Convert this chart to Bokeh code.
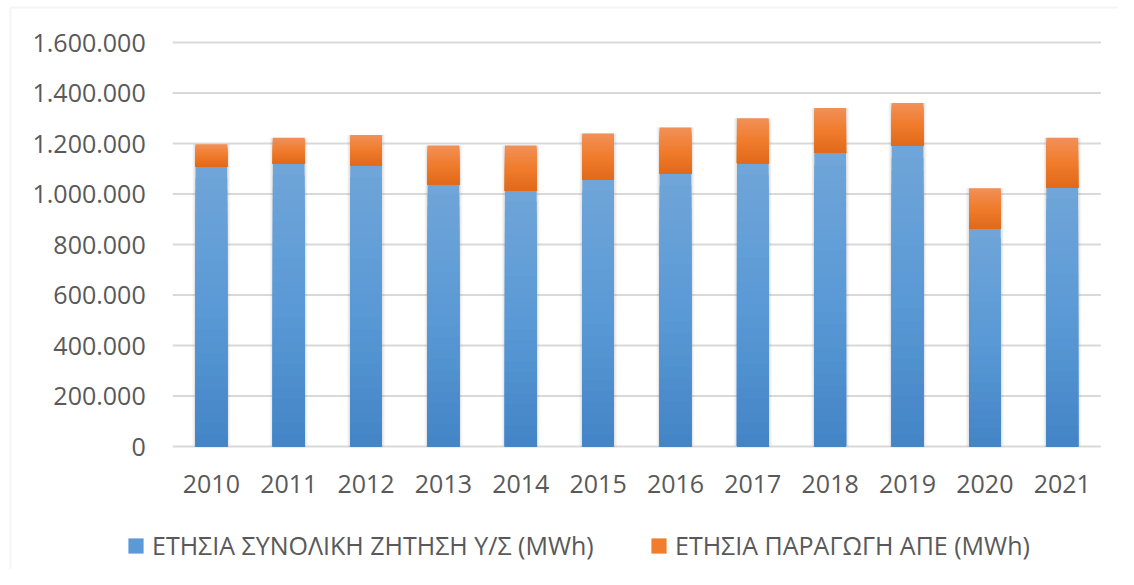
from bokeh.plotting import figure
from bokeh.models import (Range1d, FixedTicker, CustomJSTickFormatter,
                          Legend, LegendItem, ColumnDataSource, LinearAxis, BoxAnnotation)
from bokeh.embed import file_html
from bokeh.resources import INLINE

# ---- data ----
years = ["2010", "2011", "2012", "2013", "2014", "2015",
         "2016", "2017", "2018", "2019", "2020", "2021"]
demand = [1109000, 1120000, 1114000, 1038000, 1012000, 1055000,
          1079000, 1121000, 1162000, 1192000, 862000, 1024000]
res_prod = [88000, 103000, 120000, 154000, 180000, 185000,
            184000, 179000, 179000, 168000, 161000, 199000]
y_ticks = [0, 200000, 400000, 600000, 800000, 1000000, 1200000, 1400000, 1600000]
series_labels = ["ΕΤΗΣΙΑ ΣΥΝΟΛΙΚΗ ΖΗΤΗΣΗ Υ/Σ (MWh)", "ΕΤΗΣΙΑ ΠΑΡΑΓΩΓΗ ΑΠΕ (MWh)"]

# gradient stops (bottom, middle, top)
blue_stops = [(0x43, 0x84, 0xc6), (0x5a, 0x9a, 0xd6), (0x70, 0xa5, 0xd8)]
orange_stops = [(0xe0, 0x69, 0x1a), (0xf0, 0x7c, 0x2c), (0xf1, 0x90, 0x58)]

FONT = "Open Sans"
FS = "25px"
TXT = "#595959"

# ---- layout (pixels) ----
W, H = 1118, 569
PLOT_L, PLOT_R = 172.2, 1100.4      # category area, page px
PLOT_T, PLOT_B = 42.0, 446.0        # 1.6M and 0 lines, page px
n = len(years)
ymax = y_ticks[-1]
px_x = (PLOT_R - PLOT_L) / n
px_y = (PLOT_B - PLOT_T) / ymax
x_start = -0.5 - PLOT_L / px_x
x_end = n - 0.5 + (W - PLOT_R) / px_x
y_end = ymax + PLOT_T / px_y
y_start = -(H - PLOT_B) / px_y

xs = list(range(n))

p = figure(x_range=Range1d(x_start, x_end), y_range=Range1d(y_start, y_end),
           width=W, height=H, output_backend="svg", toolbar_location=None,
           x_axis_type=None, y_axis_type=None, min_border=0)
p.outline_line_color = None
p.background_fill_color = "white"
p.border_fill_color = "white"
p.xgrid.visible = False
p.ygrid.visible = False

# chart-area border (left / top / right visible)
p.add_layout(BoxAnnotation(left=x_start + 10 / px_x, right=x_end + 20 / px_x,
                           top=y_end - 7 / px_y, bottom=y_start - 40 / px_y,
                           fill_alpha=0, line_color="#d9d9d9", line_width=2))

# gridlines over the category area only
p.segment(x0=[-0.5] * len(y_ticks), x1=[n - 0.5] * len(y_ticks),
          y0=y_ticks, y1=y_ticks, line_color="#d9d9d9", line_width=2)

yaxis = LinearAxis(fixed_location=-0.5, ticker=FixedTicker(ticks=y_ticks),
                   formatter=CustomJSTickFormatter(
                       code=r"return tick.toFixed(0).replace(/\B(?=(\d{3})+(?!\d))/g, '.');"))
xaxis = LinearAxis(fixed_location=0, ticker=FixedTicker(ticks=xs),
                   major_label_overrides={i: y for i, y in enumerate(years)})
for ax in (xaxis, yaxis):
    ax.axis_line_color = None
    ax.major_tick_line_color = None
    ax.minor_tick_line_color = None
    ax.major_tick_out = 0
    ax.major_tick_in = 0
    ax.major_label_text_font = FONT
    ax.major_label_text_font_size = FS
    ax.major_label_text_color = TXT
yaxis.major_label_standoff = 27
xaxis.major_label_standoff = 28
p.add_layout(yaxis, "left")
p.add_layout(xaxis, "below")


def interp(stops, t):
    if t <= 0.5:
        a, b, u = stops[0], stops[1], t / 0.5
    else:
        a, b, u = stops[1], stops[2], (t - 0.5) / 0.5
    c = [round(a[i] + (b[i] - a[i]) * u) for i in range(3)]
    return "#%02x%02x%02x" % tuple(c)


N = 24
BW = 0.41

# soft shadow behind the stacks
totals = [d + r for d, r in zip(demand, res_prod)]
for extra, alpha in ((0.085, 0.05), (0.06, 0.07), (0.035, 0.10)):
    p.vbar(x=xs, bottom=0, top=totals, width=BW + extra,
           fill_color="#808080", fill_alpha=alpha, line_color=None)


def gradient_bars(values, bases, stops):
    mid = None
    for k in range(N - 1, -1, -1):
        src = ColumnDataSource(dict(
            x=xs,
            bottom=bases,
            top=[b + v * (k + 1) / N for b, v in zip(bases, values)],
        ))
        r = p.vbar(x="x", bottom="bottom", top="top", width=BW, source=src,
                   fill_color=interp(stops, (k + 0.5) / N), line_color=None)
        if k == N // 2:
            mid = r
    return mid


zeros = [0] * n
r_blue = gradient_bars(demand, zeros, blue_stops)
r_orange = gradient_bars(res_prod, demand, orange_stops)

legend = Legend(items=[LegendItem(label=series_labels[0], renderers=[r_blue]),
                       LegendItem(label=series_labels[1], renderers=[r_orange])],
                location=(126, 7), orientation="horizontal",
                padding=0, margin=0, spacing=28, label_width=469,
                glyph_width=19, glyph_height=19, label_standoff=7,
                label_text_font=FONT, label_text_font_size=FS,
                label_text_color=TXT, border_line_color=None,
                background_fill_alpha=0)
p.add_layout(legend, "center")

open("out.html", "w").write(file_html(p, INLINE))
